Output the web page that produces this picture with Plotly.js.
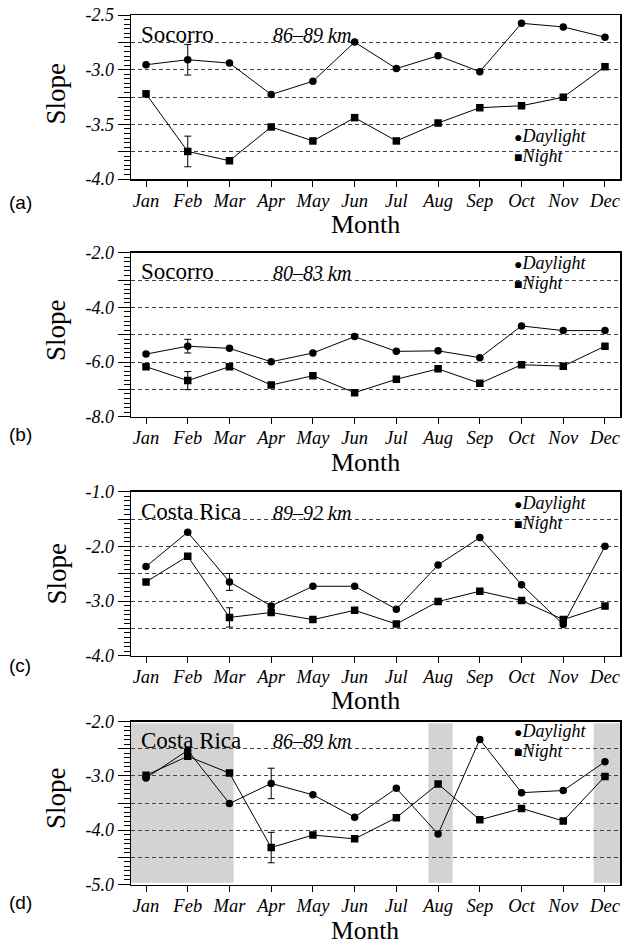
<!DOCTYPE html>
<html>
<head>
<meta charset="utf-8">
<script src="https://cdn.plot.ly/plotly-3.0.1.min.js"></script>
<style>
html,body{margin:0;padding:0;background:#fff;}
#chart{width:630px;height:945px;}
</style>
</head>
<body>
<div id="chart"></div>
<script>
// ---------------- DATA ----------------
const months = ['Jan','Feb','Mar','Apr','May','Jun','Jul','Aug','Sep','Oct','Nov','Dec'];
const monthPos = [1,2,3,4,5,6,7,8,9,10,11,12];
const seriesNames = ['Daylight','Night'];

// (a) Socorro 86-89 km
const dayA   = [-2.955,-2.909,-2.940,-3.227,-3.106,-2.748,-2.990,-2.873,-3.018,-2.576,-2.609,-2.703];
const nightA = [-3.221,-3.748,-3.833,-3.524,-3.652,-3.439,-3.652,-3.488,-3.348,-3.330,-3.252,-2.973];
const dayErrA   = [NaN,0.14,NaN,NaN,NaN,NaN,NaN,NaN,NaN,NaN,NaN,NaN];
const nightErrA = [NaN,0.14,NaN,NaN,NaN,NaN,NaN,NaN,NaN,NaN,NaN,NaN];

// (b) Socorro 80-83 km
const dayB   = [-5.71,-5.42,-5.50,-5.99,-5.67,-5.07,-5.61,-5.59,-5.84,-4.68,-4.85,-4.85];
const nightB = [-6.17,-6.68,-6.17,-6.84,-6.50,-7.12,-6.63,-6.25,-6.78,-6.10,-6.15,-5.42];
const dayErrB   = [NaN,0.25,NaN,NaN,NaN,NaN,NaN,NaN,NaN,NaN,NaN,NaN];
const nightErrB = [NaN,0.33,NaN,NaN,NaN,NaN,NaN,NaN,NaN,NaN,NaN,NaN];

// (c) Costa Rica 89-92 km
const dayC   = [-2.37,-1.74,-2.65,-3.09,-2.73,-2.73,-3.15,-2.34,-1.84,-2.70,-3.43,-2.00];
const nightC = [-2.65,-2.18,-3.30,-3.21,-3.34,-3.17,-3.42,-3.01,-2.82,-2.99,-3.34,-3.09];
const dayErrC   = [NaN,NaN,0.155,NaN,NaN,NaN,NaN,NaN,NaN,NaN,NaN,NaN];
const nightErrC = [NaN,NaN,0.177,NaN,NaN,NaN,NaN,NaN,NaN,NaN,NaN,NaN];

// (d) Costa Rica 86-89 km
const dayD   = [-3.04,-2.53,-3.51,-3.14,-3.35,-3.76,-3.23,-4.07,-2.33,-3.31,-3.27,-2.74];
const nightD = [-2.99,-2.64,-2.95,-4.32,-4.09,-4.16,-3.77,-3.15,-3.81,-3.60,-3.83,-3.01];
const dayErrD   = [NaN,NaN,NaN,0.28,NaN,NaN,NaN,NaN,NaN,NaN,NaN,NaN];
const nightErrD = [NaN,NaN,NaN,0.28,NaN,NaN,NaN,NaN,NaN,NaN,NaN,NaN];

const sites = ['Socorro','Socorro','Costa Rica','Costa Rica'];
const altitudes = ['86–89 km','80–83 km','89–92 km','86–89 km'];
const panelTags = ['(a)','(b)','(c)','(d)'];
const yRanges = [[-4.0,-2.5],[-8.0,-2.0],[-4.0,-1.0],[-5.0,-2.0]];
const gridSteps = [0.25,1.0,0.5,0.5];

// shaded month spans in panel (d)
const shadeFrom = [0.64, 7.77, 11.73];
const shadeTo   = [3.10, 8.35, 12.36];

const dayAll   = [dayA, dayB, dayC, dayD];
const nightAll = [nightA, nightB, nightC, nightD];
const dayErrAll   = [dayErrA, dayErrB, dayErrC, dayErrD];
const nightErrAll = [nightErrA, nightErrB, nightErrC, nightErrD];

// ---------------- LAYOUT HELPERS ----------------
const W = 630, H = 945;
const px = x => x / W;
const py = y => 1 - y / H;
const plotLeft = 131, plotRight = 620;
const panelTop    = [15, 252.7, 491.7, 721.5];
const panelBottom = [179, 416.7, 655.7, 884.5];
const xRange = [0.64, 12.36];

const serif = 'Liberation Serif, Times New Roman, serif';
const black = '#000';

const traces = [];
const layout = {
  width: W, height: H,
  margin: {l:0, r:0, t:0, b:0},
  paper_bgcolor: '#fff', plot_bgcolor: '#fff',
  showlegend: false,
  annotations: [], shapes: []
};

for (let i = 0; i < 4; i++) {
  const xk = i === 0 ? 'x' : 'x' + (i + 1);
  const yk = i === 0 ? 'y' : 'y' + (i + 1);
  const xName = i === 0 ? 'xaxis' : 'xaxis' + (i + 1);
  const yName = i === 0 ? 'yaxis' : 'yaxis' + (i + 1);

  const mk = (y, err, symbol, size, name) => ({
    x: monthPos, y: y, type: 'scatter', mode: 'lines+markers', name: name,
    xaxis: xk, yaxis: yk, showlegend: false,
    line: {color: black, width: 1},
    marker: {symbol: symbol, size: size, color: black},
    error_y: {type: 'data', array: err, visible: true, color: black, thickness: 1, width: 3.5}
  });
  traces.push(mk(dayAll[i], dayErrAll[i], 'circle', 7.5, seriesNames[0]));
  traces.push(mk(nightAll[i], nightErrAll[i], 'square', 7.5, seriesNames[1]));

  const [lo, hi] = yRanges[i];
  const step = gridSteps[i];
  const vals = [], texts = [];
  const n = Math.round((hi - lo) / step);
  for (let k = 0; k <= n; k++) {
    const v = +(lo + k * step).toFixed(4);
    vals.push(v);
    texts.push(k % 2 === 0 ? v.toFixed(1) : '');
  }

  layout[xName] = {
    domain: [px(plotLeft), px(plotRight)],
    anchor: yk, range: xRange,
    tickmode: 'array', tickvals: monthPos, ticktext: months,
    ticks: 'outside', ticklen: 6, tickwidth: 1, tickcolor: black,
    ticklabelstandoff: -2,
    showline: true, linecolor: black, linewidth: 1.5, mirror: true,
    showgrid: false, zeroline: false, fixedrange: true,
    tickfont: {family: serif, size: 18.5, style: 'italic', color: black}
  };
  layout[yName] = {
    domain: [py(panelBottom[i]), py(panelTop[i])],
    anchor: xk, range: [lo, hi],
    tickmode: 'array', tickvals: vals, ticktext: texts,
    ticks: 'outside', ticklen: 12, tickwidth: 1, tickcolor: black,
    showline: true, linecolor: black, linewidth: 1.5, mirror: true,
    showgrid: true, gridcolor: '#444', gridwidth: 1, griddash: '4px,3px',
    zeroline: false, fixedrange: true,
    minor: {tickmode: 'linear', tick0: lo, dtick: step / 6, ticks: 'outside',
            ticklen: 6, tickwidth: 1, tickcolor: black, showgrid: false},
    tickfont: {family: serif, size: 18, style: 'italic', color: black}
  };

  // site name and altitude band
  const labY = [34, 271.5, 511.5, 740][i];
  layout.annotations.push({
    xref: 'paper', yref: 'paper', x: px(139), y: py(labY), xanchor: 'left', yanchor: 'middle',
    text: sites[i], showarrow: false, font: {family: serif, size: 23, color: black}
  });
  layout.annotations.push({
    xref: 'paper', yref: 'paper', x: px(312), y: py(labY + 1), xanchor: 'center', yanchor: 'middle',
    text: '<i>' + altitudes[i] + '</i>', showarrow: false, font: {family: serif, size: 20, color: black}
  });
  // legend text
  const legY = [[136, 156], [263, 283], [503, 523], [731, 751]][i];
  layout.annotations.push({
    xref: 'paper', yref: 'paper', x: px(512), y: py(legY[0]), xanchor: 'left', yanchor: 'middle',
    text: '<span style="font-size:14px">●</span><i>' + seriesNames[0] + '</i>', showarrow: false,
    font: {family: serif, size: 18, color: black}
  });
  layout.annotations.push({
    xref: 'paper', yref: 'paper', x: px(512), y: py(legY[1]), xanchor: 'left', yanchor: 'middle',
    text: '<span style="font-size:14px">■</span><i>' + seriesNames[1] + '</i>', showarrow: false,
    font: {family: serif, size: 18, color: black}
  });
  // axis titles
  layout.annotations.push({
    xref: 'paper', yref: 'paper', x: px(365), y: py([224, 462, 700, 930][i]), xanchor: 'center', yanchor: 'middle',
    text: 'Month', showarrow: false, font: {family: serif, size: i === 3 ? 25.5 : 26, color: black}
  });
  layout.annotations.push({
    xref: 'paper', yref: 'paper', x: px(56), y: py([93.5, 330, 573.5, 798][i]), xanchor: 'center', yanchor: 'middle',
    text: 'Slope', textangle: -90, showarrow: false, font: {family: serif, size: 27, color: black}
  });
  // panel tag
  layout.annotations.push({
    xref: 'paper', yref: 'paper', x: px(20), y: py([202, 435, 665, 902][i]), xanchor: 'center', yanchor: 'middle',
    text: panelTags[i], showarrow: false, font: {family: 'Liberation Sans, Arial, sans-serif', size: 19, color: black}
  });
}

// shading in panel (d)
for (let k = 0; k < shadeFrom.length; k++) {
  layout.shapes.push({
    type: 'rect', xref: 'x4', yref: 'y4 domain', x0: shadeFrom[k], x1: shadeTo[k], y0: 0.01, y1: 0.99,
    fillcolor: '#d3d3d3', line: {width: 0}, layer: 'below'
  });
}

Plotly.newPlot('chart', traces, layout, {staticPlot: true, displayModeBar: false});
</script>
</body>
</html>
